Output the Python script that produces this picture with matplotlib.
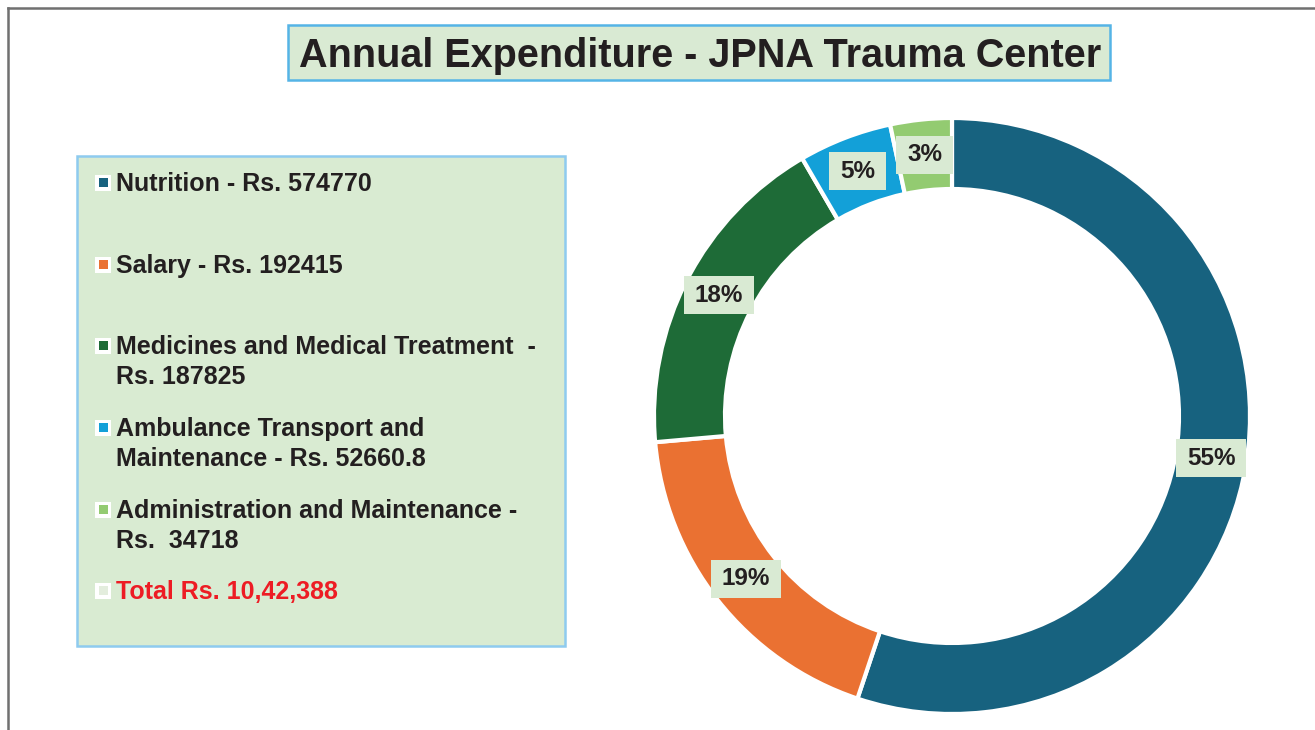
import matplotlib
matplotlib.use("Agg")
import matplotlib.pyplot as plt
from matplotlib.patches import Rectangle
import numpy as np

# ---- data ----
categories = ["Nutrition", "Salary", "Medicines and Medical Treatment",
              "Ambulance Transport and Maintenance", "Administration and Maintenance"]
values = [574770, 192415, 187825, 52660.8, 34718]
pct_labels = ["55%", "19%", "18%", "5%", "3%"]
legend_texts = ["Nutrition - Rs. 574770",
                "Salary - Rs. 192415",
                "Medicines and Medical Treatment  -\nRs. 187825",
                "Ambulance Transport and\nMaintenance - Rs. 52660.8",
                "Administration and Maintenance -\nRs.  34718"]
total_text = "Total Rs. 10,42,388"
colors = ["#17627f", "#ea7132", "#1e6b37", "#13a0d8", "#93cb71"]
title = "Annual Expenditure - JPNA Trauma Center"

plt.rcParams['font.family'] = ['Liberation Sans', 'DejaVu Sans']
W, H = 1315, 730
fig = plt.figure(figsize=(W / 100, H / 100), dpi=100)
fig.patch.set_facecolor("white")
TXT = "#231f20"

def fx(x):
    return x / W

def fy(y):
    return 1 - y / H

def box(x0, y0, x1, y1, **kw):
    fig.add_artist(Rectangle((fx(x0), fy(y1)), (x1 - x0) / W, (y1 - y0) / H,
                             transform=fig.transFigure, **kw))

# outer frame (top & left lines)
fig.add_artist(plt.Line2D([fx(8), fx(8)], [fy(8), fy(735)], color="#707070", lw=1.8))
fig.add_artist(plt.Line2D([fx(8), fx(1320)], [fy(8), fy(8)], color="#707070", lw=1.8))

# title box
box(288, 25, 1110, 80, facecolor="#d9ead3", edgecolor="#55b4e6", lw=1.8)
fig.text(fx(700), fy(67), title, ha="center", va="baseline", fontsize=28.5,
         fontweight="bold", color=TXT)

# legend box
box(77, 156, 565, 646, facecolor="#d9ebd2", edgecolor="#8ecbef", lw=1.8)
baselines = [191, 273, 354, 436, 518]
LS = 30.5
FS = 18

def marker(y_center, inner):
    box(95, y_center - 8, 111, y_center + 8, facecolor="white", edgecolor="none")
    box(98.5, y_center - 4.5, 107.5, y_center + 4.5, facecolor=inner, edgecolor="none")

for txt, c, b in zip(legend_texts, colors, baselines):
    marker(b - 8.5, c)
    for i, line in enumerate(txt.split("\n")):
        fig.text(fx(116), fy(b + i * LS), line, ha="left", va="baseline",
                 fontsize=FS, fontweight="bold", color=TXT)
marker(599 - 8.5, "#e3eddd")
fig.text(fx(116), fy(599), total_text, ha="left", va="baseline", fontsize=FS,
         fontweight="bold", color="#ed1c24")

# donut
cx, cy, R = 952, 416, 298
half = 300
ax = fig.add_axes([fx(cx - half), fy(cy + half), 2 * half / W, 2 * half / H])
r = R / half
wd = 71 / half
wedges, _ = ax.pie(values, colors=colors, startangle=90, counterclock=False,
                   radius=r, wedgeprops=dict(width=wd, edgecolor="white", linewidth=3))
ax.set_xlim(-1, 1)
ax.set_ylim(-1, 1)
ax.set_aspect("equal")
ax.axis("off")
rm = r - wd / 2
LFS = 17.5
texts = []
for w, lab in zip(wedges, pct_labels):
    ang = np.deg2rad((w.theta1 + w.theta2) / 2)
    t = ax.text(rm * np.cos(ang), rm * np.sin(ang), lab, ha="center", va="center",
                fontsize=LFS, fontweight="bold", color=TXT, zorder=5)
    texts.append(t)

fig.canvas.draw()
renderer = fig.canvas.get_renderer()
for t in texts:
    bb = t.get_window_extent(renderer)
    xc = (bb.x0 + bb.x1) / 2
    yc = (bb.y0 + bb.y1) / 2
    w_ = bb.width + 22
    h_ = 38
    fig.add_artist(Rectangle(((xc - w_ / 2) / W, (yc - h_ / 2) / H), w_ / W, h_ / H,
                             transform=fig.transFigure, facecolor="#d9ead3",
                             edgecolor="none", zorder=4))
    t.remove()
    fig.text(xc / W, yc / H, t.get_text(), ha="center", va="center", fontsize=LFS,
             fontweight="bold", color=TXT, zorder=6)

fig.savefig("out.png", dpi=100)
